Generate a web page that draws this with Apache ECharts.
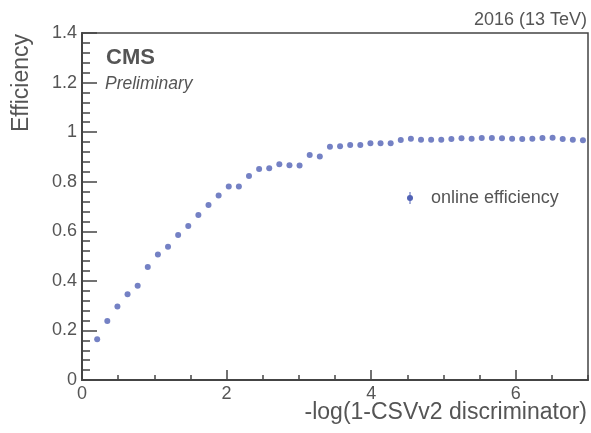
<!DOCTYPE html>
<html>
<head>
<meta charset="utf-8">
<script src="https://cdn.jsdelivr.net/npm/echarts@6/dist/echarts.min.js"></script>
<style>
html,body{margin:0;padding:0;background:#fff;}
#chart{width:591px;height:433px;}
</style>
</head>
<body>
<div id="chart"></div>
<script>
var xValues = [0.21,0.35,0.49,0.63,0.77,0.91,1.05,1.19,1.33,1.47,1.61,1.75,1.89,2.03,2.17,2.31,2.45,2.59,2.73,2.87,3.01,3.15,3.29,3.43,3.57,3.71,3.85,3.99,4.13,4.27,4.41,4.55,4.69,4.83,4.97,5.11,5.25,5.39,5.53,5.67,5.81,5.95,6.09,6.23,6.37,6.51,6.65,6.79,6.93];
var effValues = [0.164,0.238,0.297,0.346,0.380,0.456,0.506,0.538,0.585,0.621,0.666,0.706,0.744,0.781,0.781,0.823,0.851,0.854,0.870,0.866,0.865,0.908,0.902,0.941,0.943,0.948,0.948,0.955,0.955,0.955,0.968,0.973,0.969,0.969,0.969,0.972,0.975,0.973,0.976,0.976,0.975,0.973,0.972,0.973,0.976,0.977,0.972,0.969,0.967];
var seriesName = 'online efficiency';
var xTitle = '-log(1-CSVv2 discriminator)';
var yTitle = 'Efficiency';

var textColor = '#555';
var axisColor = '#444';
var markColor = '#5162b5';
var font = 'Liberation Sans, Arial, Helvetica, sans-serif';

var points = xValues.map(function (x, i) { return [x, effValues[i]]; });

var chart = echarts.init(document.getElementById('chart'), null, {renderer: 'canvas'});
chart.setOption({
  animation: false,
  backgroundColor: '#fff',
  grid: {left: 82, top: 33, right: 3, bottom: 53, show: true, borderColor: axisColor, borderWidth: 1.5, containLabel: false},
  xAxis: [{
    type: 'value', min: 0, max: 7, interval: 2,
    axisLine: {lineStyle: {color: axisColor, width: 2}},
    axisTick: {inside: true, length: 10, lineStyle: {color: axisColor, width: 1.5}},
    axisLabel: {color: textColor, fontSize: 18, fontFamily: font, margin: 5, showMaxLabel: false},
    splitLine: {show: false}
  }, {
    type: 'value', min: 0, max: 7, interval: 0.5, position: 'bottom',
    axisLine: {show: false},
    axisTick: {inside: true, length: 5, lineStyle: {color: axisColor, width: 1.5}},
    axisLabel: {show: false},
    splitLine: {show: false}
  }],
  yAxis: {
    type: 'value', min: 0, max: 1.4, interval: 0.2,
    axisLine: {lineStyle: {color: axisColor, width: 2}},
    axisTick: {inside: true, length: 15, lineStyle: {color: axisColor, width: 1.5}},
    minorTick: {show: true, splitNumber: 5, length: 8, lineStyle: {color: axisColor, width: 1.5}},
    axisLabel: {color: textColor, fontSize: 18, fontFamily: font, margin: 5},
    splitLine: {show: false}
  },
  series: [{
    name: seriesName, type: 'scatter', xAxisIndex: 0, data: points,
    symbol: 'circle', symbolSize: 6,
    itemStyle: {color: markColor}
  }],
  graphic: [
    {type: 'text', x: 587, y: 20, style: {text: '2016 (13 TeV)', align: 'right', verticalAlign: 'middle', fill: textColor, font: '18px ' + font}},
    {type: 'text', x: 106, y: 58, style: {text: 'CMS', align: 'left', verticalAlign: 'middle', fill: textColor, font: 'bold 22px ' + font}},
    {type: 'text', x: 105, y: 84, style: {text: 'Preliminary', align: 'left', verticalAlign: 'middle', fill: textColor, font: 'italic 17.5px ' + font}},
    {type: 'text', x: 587, y: 413, style: {text: xTitle, align: 'right', verticalAlign: 'middle', fill: textColor, font: '23px ' + font}},
    {type: 'text', x: 22, y: 34, rotation: Math.PI / 2, style: {text: yTitle, align: 'right', verticalAlign: 'middle', fill: textColor, font: '23px ' + font}},
    {type: 'line', shape: {x1: 410, y1: 192, x2: 410, y2: 204}, style: {stroke: markColor, lineWidth: 1}},
    {type: 'circle', shape: {cx: 410, cy: 198, r: 3}, style: {fill: markColor}},
    {type: 'text', x: 431, y: 198, style: {text: seriesName, align: 'left', verticalAlign: 'middle', fill: textColor, font: '18px ' + font}}
  ]
});
</script>
</body>
</html>
